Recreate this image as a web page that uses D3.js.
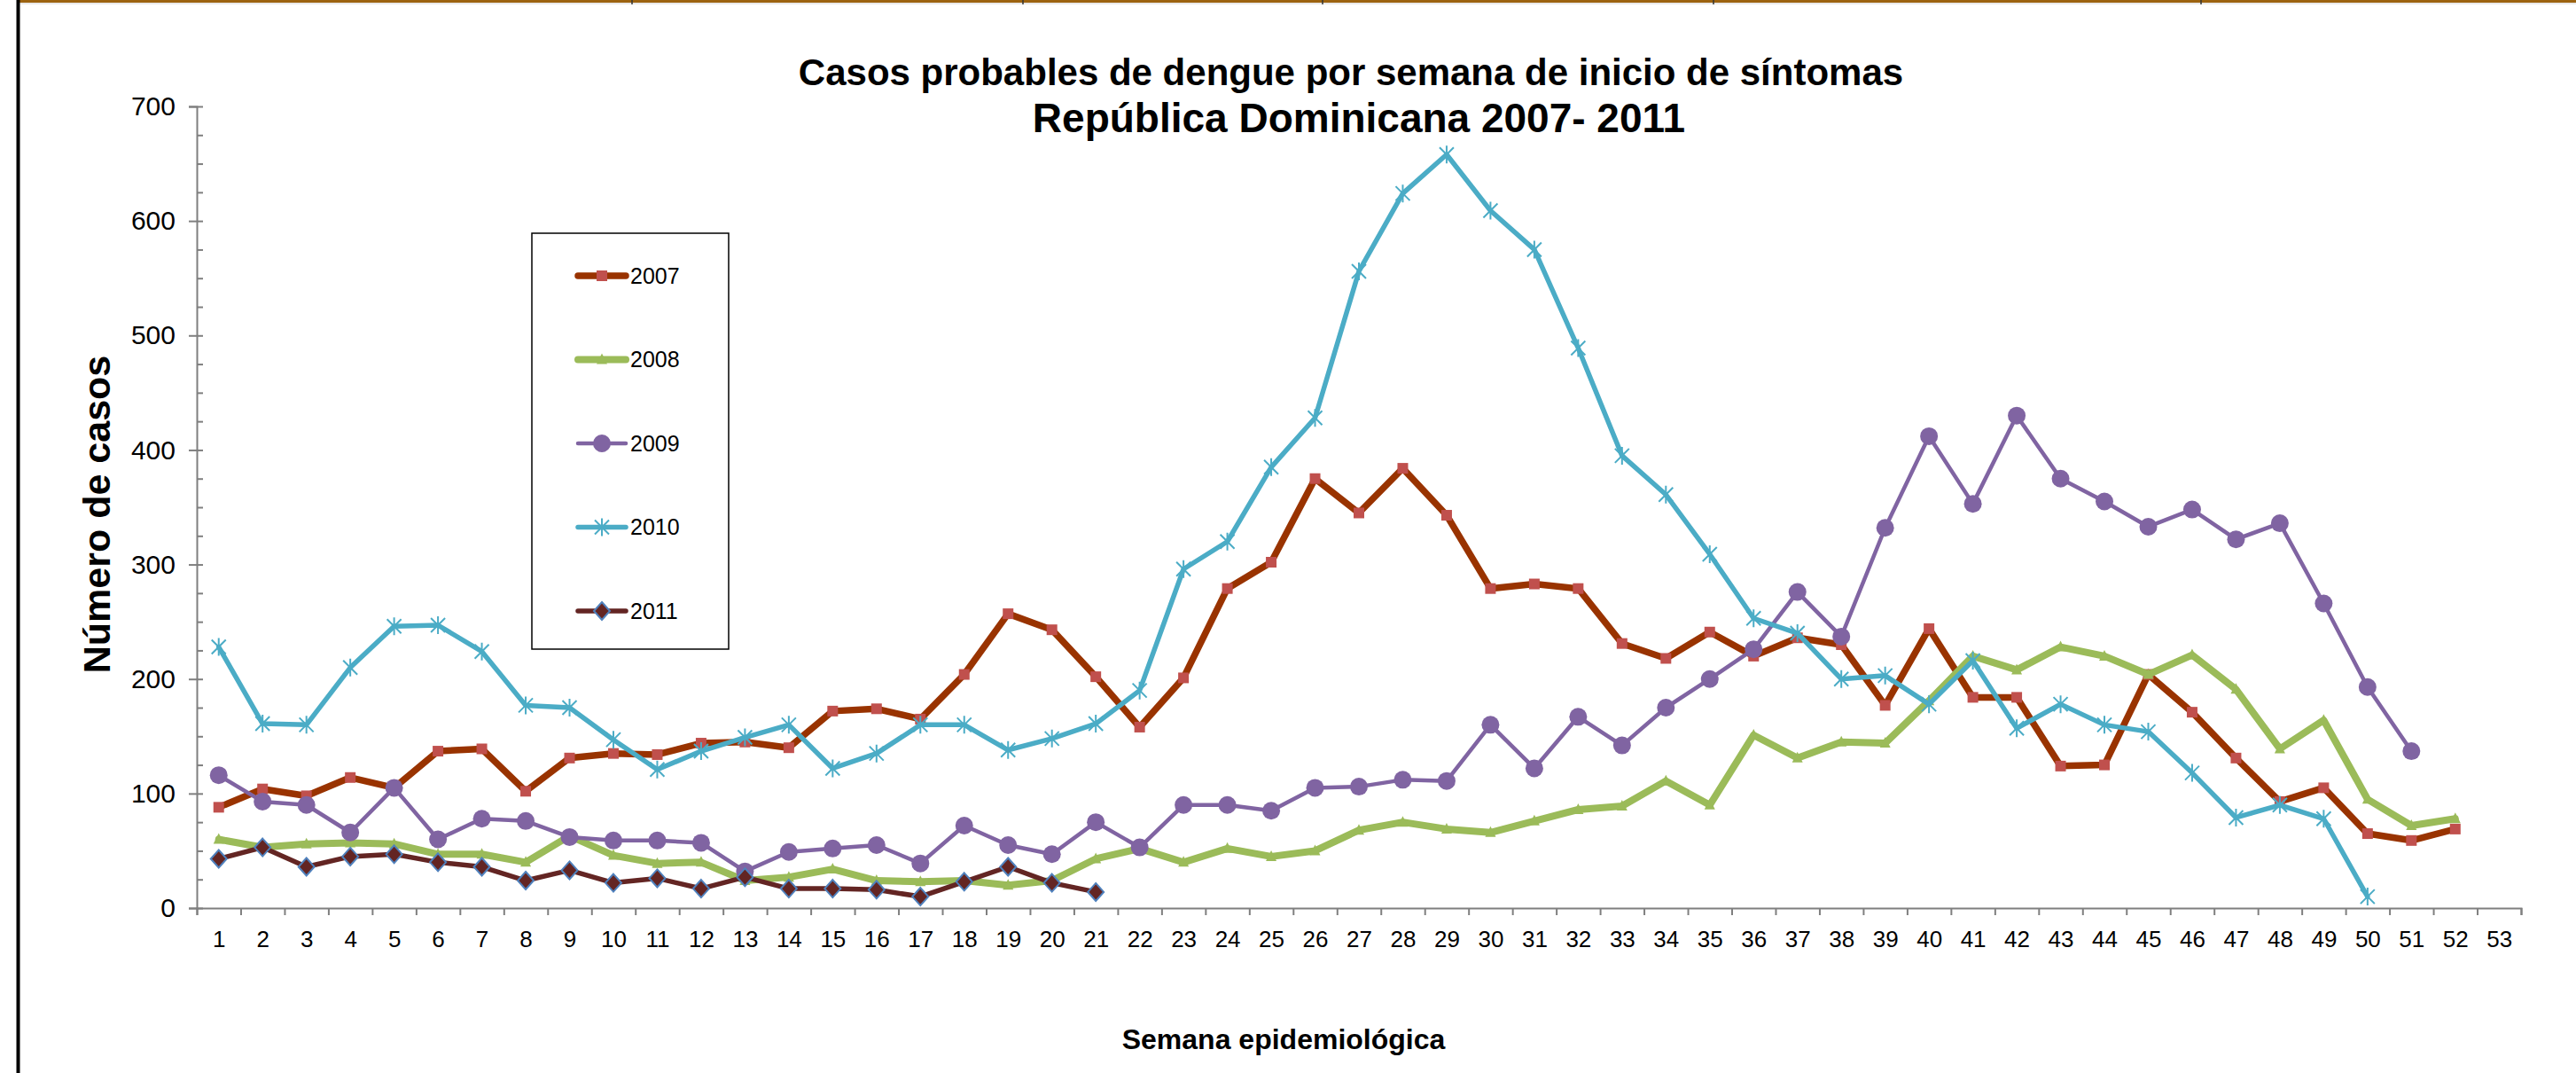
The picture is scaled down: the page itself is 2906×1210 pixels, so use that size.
<!DOCTYPE html>
<html>
<head>
<meta charset="utf-8">
<script src="https://cdn.jsdelivr.net/npm/d3@7"></script>
<style>
  body { margin: 0; background: #fff; }
  svg { display: block; }
  text { font-family: "Liberation Sans", Arial, sans-serif; }
</style>
</head>
<body>
<div id="chart"></div>
<script>
// weeks (categories)
const weeks = [1,2,3,4,5,6,7,8,9,10,11,12,13,14,15,16,17,18,19,20,21,22,23,24,25,26,27,
  28,29,30,31,32,33,34,35,36,37,38,39,40,41,42,43,44,45,46,47,48,49,50,51,52,53]
const yTicks = [0,100,200,300,400,500,600,700]
const years = ["2007","2008","2009","2010","2011"]

// cases per week
const cases2007 = [88,104,98,114,105,137,139,102,131,135,134,144,145,140,172,174,165,204,257,243,
  202,158,201,279,302,375,345,384,343,279,283,279,231,218,241,220,236,230,177,244,184,184,124,125,
  204,171,131,93,105,65,59,69]
const cases2008 = [60,53,56,57,56,47,47,40,63,46,39,40,24,27,34,24,23,24,20,24,43,52,40,52,45,50,
  68,75,69,66,76,86,89,111,90,151,131,145,144,181,220,208,228,220,204,221,191,139,164,95,72,78]
const cases2009 = [116,93,90,66,105,60,78,76,62,59,59,57,32,49,52,55,39,72,55,47,75,53,90,90,85,
  105,106,112,111,160,122,167,142,175,200,226,276,237,332,412,353,430,375,355,333,348,322,336,266,
  193,137]
const cases2010 = [228,161,160,210,246,247,224,177,175,147,121,137,149,160,122,135,160,160,138,148,
  161,190,296,320,385,428,556,624,658,609,575,489,395,361,309,253,240,200,203,178,216,157,178,160,
  154,118,79,90,78,10]
const cases2011 = [43,53,36,45,47,40,36,24,33,22,26,17,27,17,17,16,10,23,36,22,14]

const allCases = [cases2007, cases2008, cases2009, cases2010, cases2011]
const lineColors = ["#993300", "#9BBB59", "#8064A2", "#4BACC6", "#632523"]
const markerFill = ["#C0504D", "#9BBB59", "#8064A2", "#4BACC6", "#632523"]
const lineWidths = [7.5, 8, 4.5, 5.5, 5.5]
const markerKinds = ["square", "triangle", "circle", "star", "diamond"]

const W = 2906, H = 1210

const svg = d3.select("#chart").append("svg")
  .attr("width", W)
  .attr("height", H)

// page frame bits
svg.append("line").attr("x1", 20).attr("x2", W).attr("y1", 1.5).attr("y2", 1.5)
  .attr("stroke", "#9c6310").attr("stroke-width", 3)
svg.append("line").attr("x1", 20).attr("x2", W).attr("y1", 4).attr("y2", 4)
  .attr("stroke", "#e2e2e2").attr("stroke-width", 1.5)
svg.append("line").attr("x1", 20.5).attr("x2", 20.5).attr("y1", 0).attr("y2", H)
  .attr("stroke", "#000").attr("stroke-width", 4)
svg.selectAll(".cut").data([713, 1154, 1492, 1933, 2483]).enter().append("line")
  .attr("x1", d => d).attr("x2", d => d).attr("y1", 0).attr("y2", 5)
  .attr("stroke", "#333").attr("stroke-width", 1.5)

const x = d3.scaleLinear().domain([0.5, 53.5]).range([222, 2844])
const y = d3.scaleLinear().domain([0, 700]).range([1024, 120])

// title
const title = svg.append("text")
  .attr("text-anchor", "middle")
  .attr("font-weight", "bold")
title.append("tspan").attr("x", 1524).attr("y", 96).attr("font-size", 42)
  .text("Casos probables de dengue por semana de inicio de síntomas")
title.append("tspan").attr("x", 1533).attr("y", 149).attr("font-size", 46)
  .text("República Dominicana 2007- 2011")

// y axis
const axisColor = "#7f7f7f"
const yAxis = svg.append("g")
  .attr("transform", "translate(222,0)")
  .call(d3.axisLeft(y).tickValues(yTicks).tickSize(9).tickPadding(15))
yAxis.selectAll("text").attr("font-size", 30).attr("fill", "#000")
  .style("font-family", "'Liberation Sans', Arial, sans-serif")
const yMinor = svg.append("g")
  .attr("transform", "translate(222,0)")
  .call(d3.axisRight(y).tickValues(d3.range(0, 701, 25)).tickSize(7).tickFormat(""))
yMinor.select(".domain").remove()
svg.selectAll(".tick line, .domain").attr("stroke", axisColor).attr("stroke-width", 2)

// x axis
const xAxis = svg.append("g")
  .attr("transform", "translate(0,1024)")
  .call(d3.axisBottom(x).tickValues(d3.range(0.5, 54, 1)).tickSize(8).tickFormat(""))
xAxis.selectAll("line, path").attr("stroke", axisColor).attr("stroke-width", 2)
const xLabels = svg.append("g")
  .attr("transform", "translate(0,1024)")
  .call(d3.axisBottom(x).tickValues(weeks).tickSize(0).tickPadding(26).tickFormat(d3.format("d")))
xLabels.select(".domain").remove()
xLabels.selectAll("text").attr("font-size", 26).attr("fill", "#000")
  .style("font-family", "'Liberation Sans', Arial, sans-serif")

// axis titles
svg.append("text")
  .attr("transform", "translate(124,580) rotate(-90)")
  .attr("text-anchor", "middle")
  .attr("font-weight", "bold")
  .attr("font-size", 43)
  .text("Número de casos")
svg.append("text")
  .attr("x", 1448).attr("y", 1183)
  .attr("text-anchor", "middle")
  .attr("font-weight", "bold")
  .attr("font-size", 32)
  .text("Semana epidemiológica")

// markers
function drawMarker(g, kind, i) {
  if (kind === "square") {
    g.append("rect").attr("x", -6).attr("y", -6).attr("width", 12).attr("height", 12)
      .attr("fill", markerFill[i])
  } else if (kind === "triangle") {
    g.append("path").attr("d", "M0,-7L6,5L-6,5Z").attr("fill", markerFill[i])
  } else if (kind === "circle") {
    g.append("circle").attr("r", 10).attr("fill", markerFill[i])
  } else if (kind === "star") {
    g.append("path").attr("d", "M0,-10V10M-8,-8L8,8M-8,8L8,-8")
      .attr("stroke", markerFill[i]).attr("stroke-width", 2).attr("fill", "none")
  } else if (kind === "diamond") {
    g.append("path").attr("d", "M0,-10L9,0L0,10L-9,0Z")
      .attr("fill", markerFill[i]).attr("stroke", "#4F81BD").attr("stroke-width", 2)
  }
}

const line = d3.line()
  .x((d, j) => x(weeks[j]))
  .y(d => y(d))

allCases.forEach((vals, i) => {
  const g = svg.append("g").attr("class", "series-" + years[i])
  g.append("path")
    .datum(vals)
    .attr("d", line)
    .attr("fill", "none")
    .attr("stroke", lineColors[i])
    .attr("stroke-width", lineWidths[i])
    .attr("stroke-linejoin", "round")
    .attr("stroke-linecap", "round")
  g.selectAll(".pt")
    .data(vals)
    .enter().append("g")
    .attr("class", "pt")
    .attr("transform", (d, j) => "translate(" + x(weeks[j]) + "," + y(d) + ")")
    .each(function () { drawMarker(d3.select(this), markerKinds[i], i) })
})

// legend
const legend = svg.append("g")
legend.append("rect")
  .attr("x", 600).attr("y", 263).attr("width", 222).attr("height", 469)
  .attr("fill", "#fff").attr("stroke", "#000").attr("stroke-width", 1.5)
const legendY = d3.scalePoint().domain(years).range([311, 689])
years.forEach((yr, i) => {
  const ly = legendY(yr)
  legend.append("line")
    .attr("x1", 652).attr("x2", 706).attr("y1", ly).attr("y2", ly)
    .attr("stroke", lineColors[i]).attr("stroke-width", lineWidths[i])
    .attr("stroke-linecap", "round")
  const m = legend.append("g").attr("transform", "translate(679," + ly + ")")
  drawMarker(m, markerKinds[i], i)
  legend.append("text")
    .attr("x", 711).attr("y", ly)
    .attr("dy", "0.35em")
    .attr("font-size", 25)
    .text(yr)
})
</script>
</body>
</html>
